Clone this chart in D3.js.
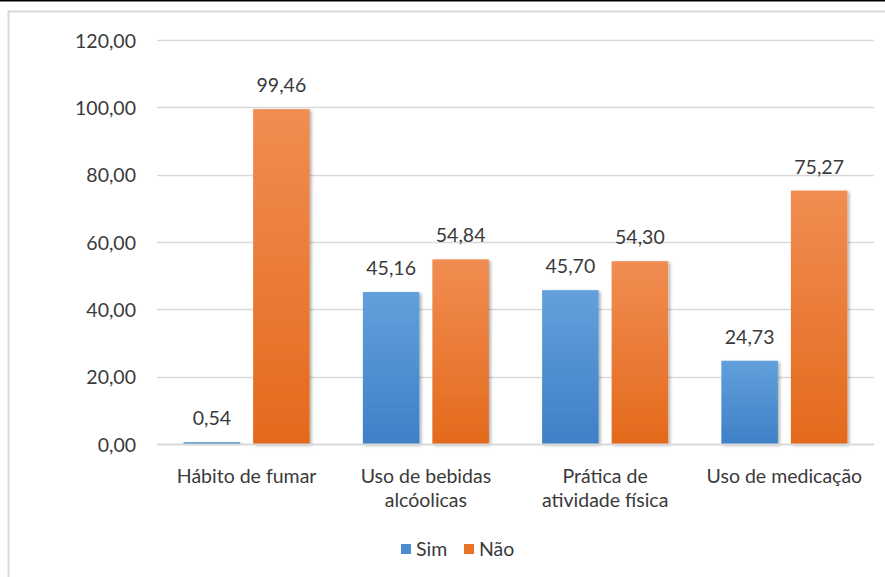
<!DOCTYPE html>
<html>
<head>
<meta charset="utf-8">
<script src="https://cdn.jsdelivr.net/npm/d3@7"></script>
<style>
  html, body { margin: 0; padding: 0; background: #fff; }
  svg { display: block; }
  text { font-family: Lato, "Open Sans", sans-serif; fill: #3a3a3a; }
</style>
</head>
<body>
<svg id="chart" width="885" height="577"></svg>
<script>
// Data
const categories = [["Hábito de fumar"], ["Uso de bebidas", "alcóolicas"], ["Prática de", "atividade física"], ["Uso de medicação"]];
const seriesNames = ["Sim", "Não"];
const simValues = [0.54, 45.16, 45.70, 24.73];
const naoValues = [99.46, 54.84, 54.30, 75.27];
const yTicks = [0, 20, 40, 60, 80, 100, 120];

const W = 885, H = 577;
const margin = { left: 157, right: 11 };
const FS = "19.5px";
const svg = d3.select("#chart");

// Frame
svg.append("rect").attr("x", 8.5).attr("y", 11.5).attr("width", W).attr("height", H)
  .attr("fill", "#fff").attr("stroke", "#d9d9d9").attr("stroke-width", 2);
svg.append("line").attr("x1", 0).attr("x2", W).attr("y1", 0.5).attr("y2", 0.5)
  .attr("stroke", "#000").attr("stroke-width", 2);

const defs = svg.append("defs");
function grad(id, top, bottom) {
  const g = defs.append("linearGradient").attr("id", id)
    .attr("x1", 0).attr("y1", 0).attr("x2", 0).attr("y2", 1);
  g.append("stop").attr("offset", "0%").attr("stop-color", top);
  g.append("stop").attr("offset", "100%").attr("stop-color", bottom);
}
grad("gSim", "#62a0dc", "#3e80c6");
grad("gNao", "#f18d52", "#e36a1c");
const sh = defs.append("filter").attr("id", "shadow")
  .attr("x", "-20%").attr("y", "-20%").attr("width", "150%").attr("height", "150%");
sh.append("feDropShadow").attr("dx", 2).attr("dy", 1.5).attr("stdDeviation", 1.5)
  .attr("flood-color", "#000").attr("flood-opacity", 0.3);

const x = d3.scaleBand().domain(d3.range(categories.length))
  .range([margin.left, W - margin.right]).paddingInner(0).paddingOuter(0);
const x1 = d3.scaleBand().domain(seriesNames).range([0, x.bandwidth()])
  .paddingInner(0.187).paddingOuter(0.383);
const y = d3.scaleLinear().domain([0, 120]).range([444, 40]);

// Gridlines (the zero line is drawn later, over the bars)
svg.append("g").selectAll("line").data(yTicks.filter(d => d > 0)).join("line")
  .attr("x1", margin.left).attr("x2", W - margin.right)
  .attr("y1", d => Math.round(y(d)) + 0.5).attr("y2", d => Math.round(y(d)) + 0.5)
  .attr("stroke", "#d9d9d9").attr("stroke-width", 1.5);

// Y axis labels
const yAxis = d3.axisLeft(y).tickValues(yTicks).tickSize(0).tickPadding(0)
  .tickFormat(d => d3.format(".2f")(d).replace(".", ","));
const ya = svg.append("g").attr("transform", "translate(136,0)").call(yAxis);
ya.select(".domain").remove();
ya.selectAll("text").style("font-size", FS).attr("fill", "#3a3a3a").attr("dy", "0.36em")
  .style("font-family", "Lato, 'Open Sans', sans-serif");

// Bars
const rows = categories.map((c, i) => ({ i, vals: [simValues[i], naoValues[i]] }));
const groups = svg.append("g").selectAll("g").data(rows).join("g")
  .attr("transform", d => `translate(${x(d.i)},0)`);
groups.selectAll("rect").data(d => d.vals.map((v, k) => ({ k, v }))).join("rect")
  .attr("x", d => x1(seriesNames[d.k]))
  .attr("width", x1.bandwidth())
  .attr("y", d => y(d.v))
  .attr("height", d => y(0) - y(d.v))
  .attr("fill", d => d.k === 0 ? "url(#gSim)" : "url(#gNao)")
  .attr("filter", "url(#shadow)");
groups.selectAll("text.val").data(d => d.vals.map((v, k) => ({ k, v }))).join("text")
  .attr("class", "val")
  .attr("x", d => x1(seriesNames[d.k]) + x1.bandwidth() / 2)
  .attr("y", d => y(d.v) - 17)
  .attr("text-anchor", "middle").style("font-size", FS)
  .text(d => d3.format(".2f")(d.v).replace(".", ","));

// Horizontal axis line
svg.append("line")
  .attr("x1", margin.left).attr("x2", W - margin.right)
  .attr("y1", Math.round(y(0)) + 0.5).attr("y2", Math.round(y(0)) + 0.5)
  .attr("stroke", "#d9d9d9").attr("stroke-width", 2);

// Category labels
groups.append("text").attr("text-anchor", "middle").style("font-size", FS)
  .attr("x", x.bandwidth() / 2).attr("y", 483)
  .selectAll("tspan").data(d => categories[d.i]).join("tspan")
  .attr("x", x.bandwidth() / 2).attr("dy", (d, j) => j === 0 ? 0 : 24)
  .text(d => d);

// Legend
const legend = svg.append("g").attr("transform", "translate(401,549)");
const lx = [0, 63];
seriesNames.forEach((s, k) => {
  legend.append("rect").attr("x", lx[k]).attr("y", -5).attr("width", 10).attr("height", 10)
    .attr("fill", k === 0 ? "#4a8dd0" : "#ea7426");
  legend.append("text").attr("x", lx[k] + 15).attr("y", 7).style("font-size", FS).text(s);
});
</script>
</body>
</html>
